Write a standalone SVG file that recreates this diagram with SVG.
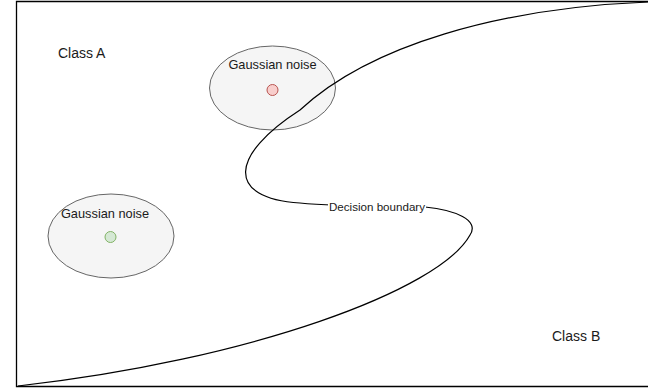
<svg xmlns="http://www.w3.org/2000/svg" width="648" height="390" viewBox="0 0 648 390">
  <style>
    .lbl { font-family: "Liberation Sans", Arial, sans-serif; fill: #1a1a1a; }
    .noise { fill: #f5f5f5; stroke: #666666; stroke-width: 1; }
    .curve { fill: none; stroke: #000000; stroke-width: 1.2; }
  </style>
  <rect width="648" height="390" fill="#ffffff"/>

  <!-- plotting frame (open on the right) -->
  <g id="frame">
    <path d="M 660 1.5 L 16.5 1.5 L 16.5 386.5 L 660 386.5" fill="none" stroke="#000000" stroke-width="1.3"/>
  </g>

  <g id="class-a-label">
    <text class="lbl" x="58" y="58" font-size="14">Class A</text>
  </g>
  <g id="class-b-label">
    <text class="lbl" x="552" y="341" font-size="14">Class B</text>
  </g>

  <g id="noise-red">
    <ellipse class="noise" cx="272.5" cy="88" rx="63" ry="42"/>
    <text class="lbl" x="272.5" y="69" font-size="12.8" text-anchor="middle">Gaussian noise</text>
    <circle cx="272.5" cy="90" r="5.5" fill="#f8cecc" stroke="#b85450"/>
  </g>

  <g id="noise-green">
    <ellipse class="noise" cx="111" cy="236" rx="63" ry="42"/>
    <text class="lbl" x="105" y="218" font-size="12.8" text-anchor="middle">Gaussian noise</text>
    <circle cx="110.5" cy="237" r="5.5" fill="#d5e8d4" stroke="#82b366"/>
  </g>

  <!-- decision boundary -->
  <g id="connectors">
    <path class="curve" d="M 648 2 C 500 8 370 45 300 110 C 230 155 225 198 300 203 C 340 207 400 206 425 207 C 455 210 480 220 470 235 C 440 290 250 360 18 386"/>
    <rect x="328" y="200" width="98" height="14" fill="#ffffff"/>
    <text class="lbl" x="377" y="211" font-size="11.6" text-anchor="middle">Decision boundary</text>
  </g>
</svg>
